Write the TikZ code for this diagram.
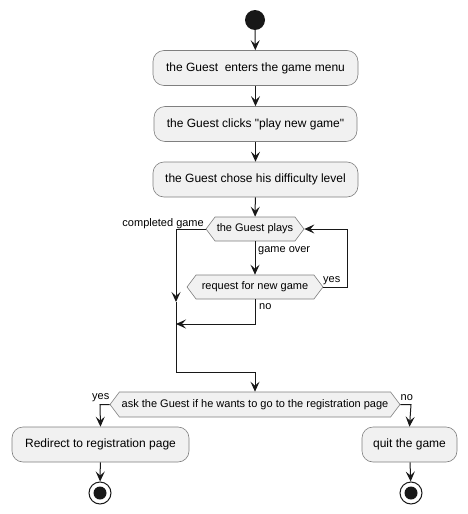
\documentclass[tikz,border=0pt]{standalone}
\usepackage{fontspec}
\setmainfont{Liberation Sans}[Ligatures=TeXOff]
\usetikzlibrary{shapes.symbols,arrows.meta}
\definecolor{actfill}{HTML}{F1F1F1}
\definecolor{actborder}{HTML}{7F7F7F}
\definecolor{ink}{HTML}{181818}
\begin{document}
\begin{tikzpicture}[x=1pt,y=-1pt,
 act/.style={draw=actborder,fill=actfill,line width=0.6pt,rounded corners=11pt,minimum height=35pt,inner sep=0pt,font=\fontsize{12}{14}\selectfont},
 dec/.style={signal,signal to=west and east,signal pointer angle=106,draw=actborder,fill=actfill,line width=0.6pt,minimum height=24pt,inner sep=0pt,font=\fontsize{11}{13}\selectfont},
 lbl/.style={font=\fontsize{11}{13}\selectfont,inner sep=0pt},
 flow/.style={draw=ink,line width=1pt,-{Stealth[length=10pt,width=9pt,inset=4pt]}},
 seg/.style={draw=ink,line width=1pt},
 startnode/.style={circle,fill=ink,minimum size=20pt,inner sep=0pt},
 endnode/.style={circle,draw=ink,fill=white,line width=1pt,minimum size=22pt,inner sep=0pt,
   path picture={\fill[ink] (path picture bounding box.center) circle (6.5pt);}},
]
\useasboundingbox (0,0) rectangle (467,514);

\node[startnode] (start) at (255,20) {};
\node[act,minimum width=205pt] (b1) at (255.5,68) {the Guest\ \ enters the game menu};
\node[act,minimum width=203pt] (b2) at (255.5,124) {the Guest clicks "play new game"};
\node[act,minimum width=205pt] (b3) at (255.5,179.5) {the Guest chose his difficulty level};

\node[dec,minimum width=98pt] (d1) at (255,229) {the Guest plays};
\node[dec,minimum width=136pt] (d2) at (255,287) {request for new game};
\node[dec,minimum width=290pt,minimum height=25pt] (d3) at (255,404.5) {ask the Guest if he wants to go to the registration page};

\node[act,minimum width=177pt] (br) at (100.5,444.5) {Redirect to registration page};
\node[act,minimum width=95pt] (bq) at (409.5,444.5) {quit the game};

\node[endnode] (e1) at (100,493) {};
\node[endnode] (e2) at (411,493) {};

\coordinate (c1) at (176,229);
\coordinate (m1) at (176,302);
\coordinate (j) at (176,324);
\coordinate (c2) at (176,372);
\coordinate (c3) at (255,372);
\coordinate (y1) at (347,287);
\coordinate (y2) at (347,229);
\coordinate (n1) at (255,324);
\coordinate (l1) at (100,404.5);
\coordinate (r1) at (411,404.5);

\draw[flow] (start) -- (b1);
\draw[flow] (b1) -- (b2);
\draw[flow] (b2) -- (b3);
\draw[flow] (b3) -- (d1);
\draw[flow] (d1.west) -- (c1) -- (m1);
\draw[seg] (m1) -- (c2) -- (c3);
\draw[flow] (c3) -- (d3.north);
\draw[flow] (d1.south) -- (d2.north);
\draw[flow] (d2.east) -- (y1) -- (y2) -- (d1.east);
\draw[flow] (d2.south) -- (n1) -- (j);
\draw[flow] (d3.west) -- (l1) -- (br.north);
\draw[flow] (d3.east) -- (r1) -- (bq.north);
\draw[flow] (br) -- (e1);
\draw[flow] (bq) -- (e2);

\node[lbl,anchor=east] (lcg) at (204,224) {completed game};
\node[lbl,anchor=west] (lgo) at (258,251) {game over};
\node[lbl,anchor=west] (lyes1) at (323,281) {yes};
\node[lbl,anchor=west] (lno1) at (259,307) {no};
\node[lbl,anchor=east] (lyes2) at (109.5,398) {yes};
\node[lbl,anchor=west] (lno2) at (400.5,398) {no};
\end{tikzpicture}
\end{document}
